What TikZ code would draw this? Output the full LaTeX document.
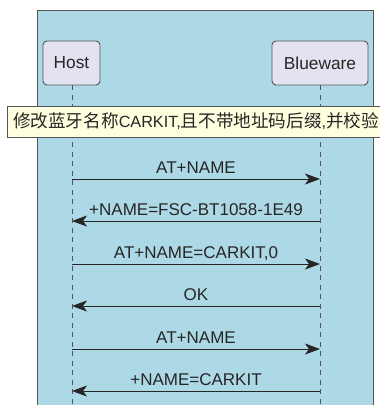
\documentclass[tikz,border=0pt]{standalone}
\usepackage{fontspec}
\setmainfont{Liberation Sans}
\newfontfamily\cjk{Noto Sans CJK SC}
\usetikzlibrary{arrows.meta}
\definecolor{frameblue}{HTML}{ADD8E6}
\definecolor{actorfill}{HTML}{E2E2F0}
\definecolor{notefill}{HTML}{FFFFE0}
\definecolor{edgegray}{HTML}{555555}
\tikzset{
  actor/.style={draw=edgegray, fill=actorfill, rounded corners=4pt, line width=0.9pt,
    inner sep=0pt, font=\fontsize{17.3}{20}\selectfont, text=black!85},
  lifeline/.style={draw=edgegray, line width=1pt, dash pattern=on 5pt off 4.5pt},
  msg/.style={draw=black!85, line width=1pt,
    -{Stealth[length=15pt, width=11pt, inset=4pt]}},
  msglabel/.style={font=\fontsize{17}{20}\selectfont, text=black!85, inner sep=0pt,
    anchor=base},
  notebox/.style={draw=edgegray, fill=notefill, line width=0.9pt},
  cjktext/.style={},
}
\newcommand{\cjkpart}[1]{{\cjk\fontsize{17.6}{20}\selectfont #1}}
\begin{document}
\begin{tikzpicture}[x=1pt, y=-1pt]
\useasboundingbox (0,0) rectangle (380,405);
\clip (0,0) rectangle (380,405);

% frame
\filldraw[fill=frameblue, draw=edgegray, line width=1pt] (37,10) rectangle (373,420);

% participants
\node[actor, minimum width=57pt, minimum height=44pt] (host) at (71.5,63) {Host};
\node[actor, minimum width=96pt, minimum height=44pt] (blue) at (320,63) {Blueware};

% lifeline ends
\coordinate (hend) at (72,410);
\coordinate (bend) at (320,410);
\draw[lifeline] (host.south -| hend) -- (hend);
\draw[lifeline] (blue.south) -- (bend);

% note across both lifelines
\draw[notebox] (7,106) rectangle (395,137);
\node[anchor=west, inner sep=0pt, text=black!85] (note) at (13,121.5)
  {\fontsize{16.2}{20}\selectfont\cjkpart{修改蓝牙名称}CARKIT,\cjkpart{且不带地址码后缀},\cjkpart{并校验}};

% message anchor points on the lifelines
\foreach \i/\y in {1/179, 2/221, 3/264, 4/306, 5/349, 6/391} {
  \coordinate (h\i) at (72,\y);
  \coordinate (b\i) at (320,\y);
}

% messages
\draw[msg] (h1) -- (b1);
\draw[msg] (b2) -- (h2);
\draw[msg] (h3) -- (b3);
\draw[msg] (b4) -- (h4);
\draw[msg] (h5) -- (b5);
\draw[msg] (b6) -- (h6);

% message labels
\node[msglabel] (m1) at (196,173) {AT+NAME};
\node[msglabel] (m2) at (196,215) {+NAME=FSC-BT1058-1E49};
\node[msglabel] (m3) at (196,258) {AT+NAME=CARKIT,0};
\node[msglabel] (m4) at (196,300) {OK};
\node[msglabel] (m5) at (196,343) {AT+NAME};
\node[msglabel] (m6) at (196,385) {+NAME=CARKIT};
\end{tikzpicture}
\end{document}
